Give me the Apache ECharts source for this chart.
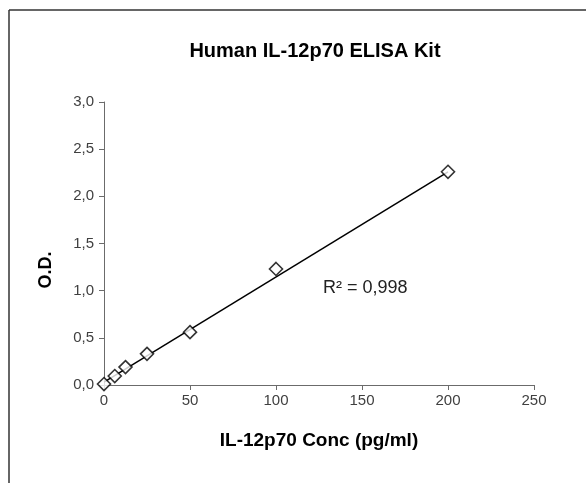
<!DOCTYPE html>
<html>
<head>
<meta charset="utf-8">
<script src="https://cdn.jsdelivr.net/npm/echarts@6/dist/echarts.min.js"></script>
<style>
  html, body { margin: 0; padding: 0; background: #fff; }
  #chart { width: 586px; height: 483px; }
</style>
</head>
<body>
<div id="chart"></div>
<script>
// standard concentrations (pg/ml) and measured O.D.
const conc = [0, 6.25, 12.5, 25, 50, 100, 200]
const od = [0.01, 0.095, 0.19, 0.33, 0.56, 1.23, 2.26]
// linear trendline endpoints
const trendX = [0, 200]
const trendY = [0.03, 2.26]
const r2Label = "R² = 0,998"

const fmt = v => v.toFixed(1).replace(".", ",")
const axisColor = "#6b6b6b"
const textColor = "#404040"
const font = "'Liberation Sans', Arial, sans-serif"

const chart = echarts.init(document.getElementById("chart"))
chart.setOption({
  animation: false,
  title: {
    text: "Human IL-12p70 ELISA Kit",
    left: 310, top: 36, textAlign: "center",
    textStyle: { fontFamily: font, fontSize: 20, fontWeight: "bold", color: "#000" },
  },
  grid: { left: 104, right: 52, top: 102, bottom: 98 },
  xAxis: {
    type: "value", min: 0, max: 250, interval: 50,
    name: "IL-12p70 Conc (pg/ml)", nameLocation: "middle", nameGap: 46,
    nameTextStyle: { fontFamily: font, fontSize: 19, fontWeight: "bold", color: "#000" },
    axisLine: { show: true, onZero: false, lineStyle: { color: axisColor, width: 1 } },
    axisTick: { show: true, inside: false, length: 5, lineStyle: { color: axisColor } },
    axisLabel: { color: textColor, fontFamily: font, fontSize: 15, margin: 8 },
    splitLine: { show: false },
  },
  yAxis: {
    type: "value", min: 0, max: 3, interval: 0.5,
    axisLine: { show: true, lineStyle: { color: axisColor, width: 1 } },
    axisTick: { show: true, inside: false, length: 5, lineStyle: { color: axisColor } },
    axisLabel: { color: textColor, fontFamily: font, fontSize: 15, margin: 10, formatter: fmt },
    splitLine: { show: false },
  },
  series: [
    {
      type: "line",
      data: trendX.map((x, i) => [x, trendY[i]]),
      showSymbol: false,
      lineStyle: { color: "#000", width: 1.5 },
      z: 2,
    },
    {
      type: "scatter",
      data: conc.map((x, i) => [x, od[i]]),
      symbol: "diamond",
      symbolSize: [13, 13],
      itemStyle: { color: "#fff", borderColor: "#000", borderWidth: 1.6 },
      z: 3,
    },
  ],
  graphic: [
    { type: "line", shape: { x1: 9, y1: 10, x2: 586, y2: 10 }, style: { stroke: "#333", lineWidth: 1.5 } },
    { type: "line", shape: { x1: 9, y1: 10, x2: 9, y2: 483 }, style: { stroke: "#333", lineWidth: 1.5 } },
    {
      // y axis name, sits below the middle of the axis in the original
      type: "text", x: 46, y: 270, rotation: Math.PI / 2,
      style: { text: "O.D.", fill: "#000", align: "center", verticalAlign: "middle",
               font: "bold 18px 'Liberation Sans', Arial, sans-serif" },
    },
    {
      type: "text", left: 323, top: 279,
      style: { text: r2Label, fill: "#222", font: "18px 'Liberation Sans', Arial, sans-serif" },
    },
  ],
})
</script>
</body>
</html>
